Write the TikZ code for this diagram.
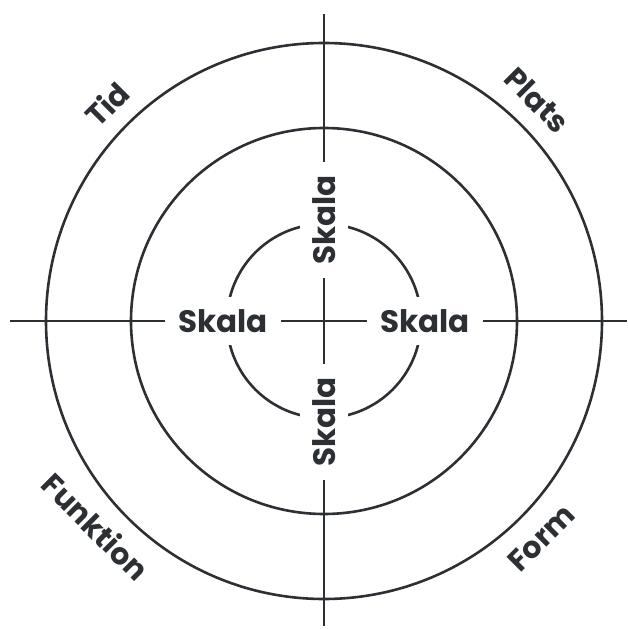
\documentclass[tikz,border=0pt]{standalone}
\usepackage{fontspec}
\setmainfont{Poppins}
\definecolor{ink}{HTML}{2C3034}
\begin{document}
\begin{tikzpicture}[
    x=1pt, y=1pt,
    every node/.style={text=ink},
    ring/.style={draw=ink, line width=2.6pt},
    axis/.style={draw=ink, line width=2.6pt},
    scale label/.style={
      fill=white, inner xsep=13pt, inner ysep=12pt,
      font=\fontsize{31}{36}\selectfont\bfseries,
    },
    corner label/.style={
      inner sep=0pt,
      font=\fontsize{30}{36}\selectfont\bfseries,
    },
  ]
% --- ring radii
\def\rOut{278}
\def\rMid{193}
\def\rIn{97}
% --- label radii
\def\rLab{307}
\def\rSk{101}

\useasboundingbox (-324,-308) rectangle (303,321);
\coordinate (c) at (0,0);

% rings
\draw[ring] (c) circle (\rOut);
\draw[ring] (c) circle (\rMid);
\draw[ring] (c) circle (\rIn);

% axes
\coordinate (west) at (-314,0);
\coordinate (east) at (303,0);
\coordinate (north) at (0,307);
\coordinate (south) at (0,-305);
\draw[axis] (west) -- (east);
\draw[axis] (north) -- (south);

% Skala labels, breaking axes and inner ring
\node[scale label] (skW) at (-\rSk,0) {Skala};
\node[scale label] (skE) at (\rSk,0) {Skala};
\node[scale label, rotate=90] (skN) at (0,\rSk) {Skala};
\node[scale label, rotate=90] (skS) at (0,-\rSk) {Skala};

% outer words
\node[corner label, rotate=45] (tid) at (135:\rLab) {Tid};
\node[corner label, rotate=-45] (plats) at (46:\rLab) {Plats};
\node[corner label, rotate=-45] (funktion) at (222:\rLab) {Funktion};
\node[corner label, rotate=45] (form) at (315:\rLab) {Form};
\end{tikzpicture}
\end{document}
